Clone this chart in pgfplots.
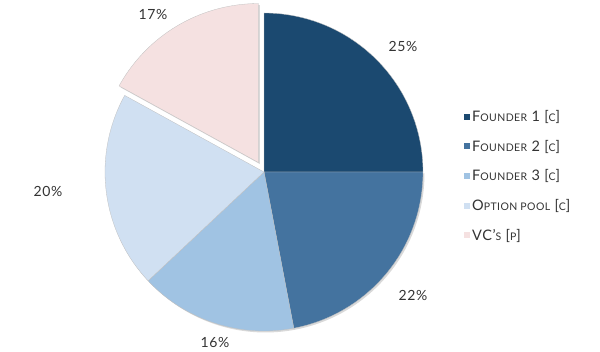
\documentclass[border=0pt]{standalone}
\usepackage{fontspec}
\setmainfont{Lato}[LetterSpace=4]
\usepackage{pgfplots}
\pgfplotsset{compat=1.18}
\definecolor{cA}{HTML}{1B4970}
\definecolor{cB}{HTML}{44739F}
\definecolor{cC}{HTML}{A0C3E3}
\definecolor{cD}{HTML}{D0E0F2}
\definecolor{cE}{HTML}{F5E1E1}
\definecolor{txt}{HTML}{333333}
\newcommand\fsc[1]{{\fontsize{10.5}{12}\selectfont #1}}
% slice values (percent)
\def\vA{25}\def\vB{22}\def\vC{16}\def\vD{20}\def\vE{17}
\pgfmathsetmacro\aA{90}
\pgfmathsetmacro\aB{\aA-3.6*\vA}
\pgfmathsetmacro\aC{\aB-3.6*\vB}
\pgfmathsetmacro\aD{\aC-3.6*\vC}
\pgfmathsetmacro\aE{\aD-3.6*\vD}
\pgfmathsetmacro\aF{\aE-3.6*\vE}
\pgfmathsetmacro\mE{(\aE+\aF)/2}
\def\cx{264}\def\cy{180}\def\R{159}
\pgfmathsetmacro\ex{\cx+11*cos(\mE)}
\pgfmathsetmacro\ey{\cy+11*sin(\mE)}
\begin{document}
\begin{tikzpicture}
\begin{axis}[width=600pt,height=352pt,scale only axis,
  xmin=0,xmax=600,ymin=0,ymax=352,hide axis,clip=false,
  legend image code/.code={\fill[#1,draw=none] (0pt,-3pt) rectangle (6pt,3pt);},
  legend style={at={(axis cs:464,176)},anchor=west,draw=none,fill=none,
    font=\fontsize{14.5}{16}\selectfont\color{txt},row sep=13pt,
    inner sep=0pt,nodes={inner sep=2pt}},
  legend cell align=left]
\path[use as bounding box] (axis cs:0,0) rectangle (axis cs:600,352);
% shadows
\addplot[forget plot,fill=black!25,draw=none,opacity=0.6,domain=\aE:\aB,samples=120,variable=\t]
  ({\cx+1.5+\R*cos(\t)},{\cy-1.5+\R*sin(\t)}) -- (axis cs:\cx+1.5,\cy-1.5) -- cycle;
\addplot[forget plot,fill=black!25,draw=none,opacity=0.6,domain=\aF:\aE,samples=60,variable=\t]
  ({\ex+1.5+\R*cos(\t)},{\ey-1.5+\R*sin(\t)}) -- (axis cs:\ex+1.5,\ey-1.5) -- cycle;
% slices
\addplot[fill=cA,draw=black!25,line width=0.3pt,domain=\aB:\aA,samples=60,variable=\t]
  ({\cx+\R*cos(\t)},{\cy+\R*sin(\t)}) -- (axis cs:\cx,\cy) -- cycle;
\addlegendentry{F\fsc{OUNDER} 1 [\fsc{C}]}
\addplot[fill=cB,draw=black!25,line width=0.3pt,domain=\aC:\aB,samples=60,variable=\t]
  ({\cx+\R*cos(\t)},{\cy+\R*sin(\t)}) -- (axis cs:\cx,\cy) -- cycle;
\addlegendentry{F\fsc{OUNDER} 2 [\fsc{C}]}
\addplot[fill=cC,draw=black!25,line width=0.3pt,domain=\aD:\aC,samples=60,variable=\t]
  ({\cx+\R*cos(\t)},{\cy+\R*sin(\t)}) -- (axis cs:\cx,\cy) -- cycle;
\addlegendentry{F\fsc{OUNDER} 3 [\fsc{C}]}
\addplot[fill=cD,draw=black!25,line width=0.3pt,domain=\aE:\aD,samples=60,variable=\t]
  ({\cx+\R*cos(\t)},{\cy+\R*sin(\t)}) -- (axis cs:\cx,\cy) -- cycle;
\addlegendentry{O\fsc{PTION POOL} [\fsc{C}]}
\addplot[fill=cE,draw=black!25,line width=0.3pt,domain=\aF:\aE,samples=60,variable=\t]
  ({\ex+\R*cos(\t)},{\ey+\R*sin(\t)}) -- (axis cs:\ex,\ey) -- cycle;
\addlegendentry{VC'\fsc{S} [\fsc{P}]}
% labels
\begin{scope}[every node/.style={font=\fontsize{14}{16}\selectfont,text=txt}]
\node at (axis cs:403,306) {25\%};
\node at (axis cs:413,57) {22\%};
\node at (axis cs:215,9) {16\%};
\node at (axis cs:48,161) {20\%};
\node at (axis cs:153,337) {17\%};
\end{scope}
\end{axis}
\end{tikzpicture}
\end{document}
